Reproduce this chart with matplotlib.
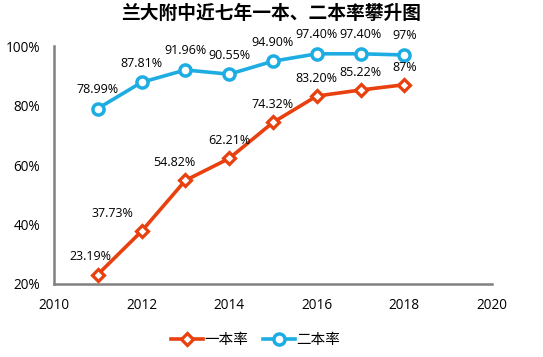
import matplotlib
matplotlib.use('Agg')
import matplotlib.pyplot as plt
from matplotlib.ticker import FuncFormatter

plt.rcParams['font.family'] = ['Noto Sans CJK SC', 'DejaVu Sans']

years = [2011, 2012, 2013, 2014, 2015, 2016, 2017, 2018]
first_rate = [23.19, 37.73, 54.82, 62.21, 74.32, 83.20, 85.22, 87.0]
second_rate = [78.99, 87.81, 91.96, 90.55, 94.90, 97.40, 97.40, 97.0]
first_labels = ['23.19%', '37.73%', '54.82%', '62.21%', '74.32%', '83.20%', '85.22%', '87%']
second_labels = ['78.99%', '87.81%', '91.96%', '90.55%', '94.90%', '97.40%', '97.40%', '97%']

red = '#E8400E'
blue = '#1DADE3'

fig = plt.figure(figsize=(5.43, 3.57), dpi=100)
ax = fig.add_axes([0.0994, 0.2045, 0.8066, 0.6665])

ax.plot(years, first_rate, color=red, lw=2.6, marker='D', ms=6.5,
        mfc='white', mec=red, mew=2.3, label='一本率', zorder=3)
ax.plot(years, second_rate, color=blue, lw=2.6, marker='o', ms=8,
        mfc='white', mec=blue, mew=2.5, label='二本率', zorder=3)

lab_font = ['Open Sans', 'DejaVu Sans']
red_dx = [-5, -21, -8, 0, 0, 0, 0, 0]
for x, y, t, dx in zip(years, first_rate, first_labels, red_dx):
    ax.annotate(t, (x, y), xytext=(dx, 8), textcoords='offset points',
                ha='center', va='bottom', fontsize=9, family=lab_font)
for x, y, t in zip(years, second_rate, second_labels):
    ax.annotate(t, (x, y), xytext=(0, 9), textcoords='offset points',
                ha='center', va='bottom', fontsize=9, family=lab_font)

ax.set_xlim(2010, 2020)
ax.set_ylim(20, 100)
ax.set_xticks([2010, 2012, 2014, 2016, 2018, 2020])
ax.set_yticks([20, 40, 60, 80, 100])
ax.yaxis.set_major_formatter(FuncFormatter(lambda v, p: f'{v:.0f}%'))
for lab in ax.get_xticklabels() + ax.get_yticklabels():
    lab.set_family(lab_font)
    lab.set_fontsize(9.8)
ax.tick_params(length=0, pad=10)
for s in ['top', 'right']:
    ax.spines[s].set_visible(False)
for s in ['left', 'bottom']:
    ax.spines[s].set_color('#808080')
    ax.spines[s].set_linewidth(1.8)

fig.suptitle('兰大附中近七年一本、二本率攀升图', y=0.99, fontsize=13.5,
             fontweight='bold')
ax.legend(loc='upper center', bbox_to_anchor=(0.46, -0.15), ncol=2,
          frameon=False, fontsize=10.5, handlelength=2.2, columnspacing=1.0,
          handletextpad=0.1)

fig.savefig('out.png', dpi=100)
